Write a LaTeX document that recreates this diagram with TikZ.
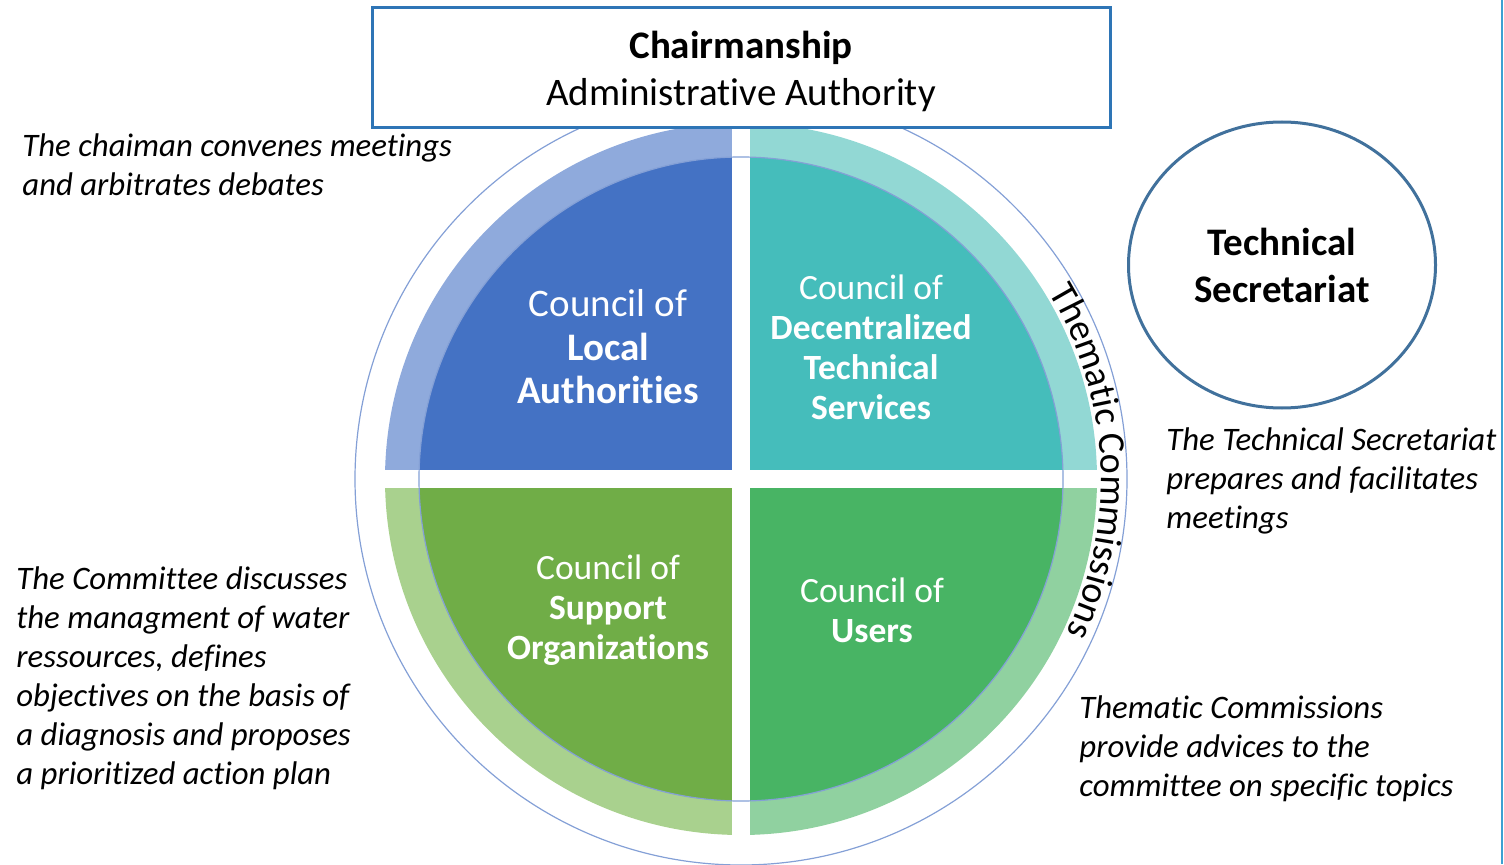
\documentclass[tikz,border=0pt]{standalone}
\usepackage{fontspec}
\setmainfont[Ligatures=NoCommon]{Carlito}
\usetikzlibrary{positioning, shapes.geometric, decorations.text}
\definecolor{frameblue}{RGB}{46,117,182}
\definecolor{secrblue}{RGB}{65,113,156}
\definecolor{ringblue}{RGB}{132,160,214}
\definecolor{edgeblue}{RGB}{60,160,210}
\definecolor{tlDark}{RGB}{68,114,196}
\definecolor{tlLight}{RGB}{143,170,220}
\definecolor{trDark}{RGB}{69,189,187}
\definecolor{trLight}{RGB}{146,216,212}
\definecolor{blDark}{RGB}{112,173,71}
\definecolor{blLight}{RGB}{169,209,142}
\definecolor{brDark}{RGB}{72,180,100}
\definecolor{brLight}{RGB}{144,209,160}

\begin{document}
\begin{tikzpicture}[
	x=0.5pt, y=0.5pt,
	big/.style = {align=center, font=\fontsize{19.5}{23.5}\selectfont},
	bigbold/.style = {align=center, font=\fontsize{19.5}{23.5}\selectfont\bfseries},
	quad/.style = {text=white, align=center, font=\fontsize{17.75}{20}\selectfont},
	quadbig/.style = {text=white, align=center, font=\fontsize{19.5}{21.7}\selectfont},
	note/.style = {anchor=north west, inner sep=0pt, align=left, font=\fontsize{16.4}{19.5}\selectfont\itshape},
	ring/.style = {draw=ringblue, line width=0.6pt},
	gap/.style = {white, line width=9pt}
	]
	\useasboundingbox (0,0) rectangle (1504,864);
	\coordinate (c) at (741,385);
	\coordinate (ts) at ([shift={(58:360)}]c);
%
	\foreach \a/\lt/\dk in {0/trLight/trDark, 90/tlLight/tlDark, 180/blLight/blDark, 270/brLight/brDark}{
		\fill[\lt] (c) -- ++(\a:356) arc[start angle=\a, delta angle=90, radius=356] -- cycle;
		\fill[\dk] (c) -- ++(\a:322) arc[start angle=\a, delta angle=90, radius=322] -- cycle;
	}
	\draw[gap] (c) ++(0,-370) -- ++(0,740);
	\draw[gap] (c) ++(-370,0) -- ++(740,0);
	\draw[ring] (c) circle[radius=322];
	\draw[ring] (c) circle[radius=386];
%
	\path[decorate, decoration={text along path, text align=center,
		text={|\fontsize{19}{20}\selectfont|Thematic Commissions}}]
		(ts) arc[start angle=58, end angle=-52, radius=360];
%
	\node[quadbig] (local) at (608,517) {Council of\\\textbf{Local}\\\textbf{Authorities}};
	\node[quad] (dts) at (871,517) {Council of\\\textbf{Decentralized}\\\textbf{Technical}\\\textbf{Services}};
	\node[quad] (supp) at (608,254) {Council of\\\textbf{Support}\\\textbf{Organizations}};
	\node[quad] (users) at (872,254) {Council of\\\textbf{Users}};
%
	\node[draw=frameblue, line width=1.5pt, fill=white, minimum width=369pt, minimum height=60pt]
		(chair) at (741,796) {};
	\node[big] (chairtext) at ([yshift=-1.5pt]chair.center) {\textbf{Chairmanship}\\Administrative Authority};
	\node[ellipse, draw=secrblue, line width=1.5pt, minimum width=153.5pt, minimum height=143pt, inner sep=0pt, bigbold]
		(secr) at (1282,599) {Technical\\Secretariat};
%
	\node[note] (chairnote) at (22,731) {The chaiman convenes meetings\\and arbitrates debates};
	\node[note] (commnote) at (16,298) {The Committee discusses\\the managment of water\\ressources, defines\\objectives on the basis of\\a diagnosis and proposes\\a prioritized action plan};
	\node[note] (secrnote) at (1166,437) {The Technical Secretariat\\prepares and facilitates\\meetings};
	\node[note] (themnote) at (1079,169) {Thematic Commissions\\provide advices to the\\committee on specific topics};
%
	\draw[edgeblue, line width=0.6pt] (1502,0) -- (1502,864);
\end{tikzpicture}
\end{document}
